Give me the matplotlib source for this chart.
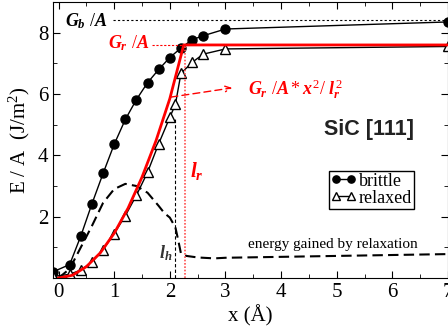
import numpy as np
import matplotlib
matplotlib.use("Agg")
import matplotlib.pyplot as plt
from matplotlib.ticker import MultipleLocator

plt.rcParams["font.family"] = ["Liberation Serif", "DejaVu Serif"]
plt.rcParams["mathtext.fontset"] = "custom"
plt.rcParams["mathtext.rm"] = "Liberation Serif"
plt.rcParams["mathtext.it"] = "Liberation Serif:italic:bold"
plt.rcParams["mathtext.bf"] = "Liberation Serif:bold"

# brittle (no relaxation)
x_brittle = [-0.1, 0.2, 0.4, 0.6, 0.8, 1.0, 1.2, 1.4, 1.6, 1.8, 2.0, 2.2, 2.4, 2.6, 3.0, 7.0]
e_brittle = [0.2, 0.44, 1.37, 2.42, 3.41, 4.36, 5.17, 5.82, 6.37, 6.8, 7.19, 7.5, 7.77, 7.9, 8.12, 8.35]

# relaxed
x_relaxed = [-0.1, 0.2, 0.4, 0.6, 0.8, 1.0, 1.2, 1.4, 1.6, 1.8, 2.0, 2.1, 2.2, 2.4, 2.6, 3.0, 7.0]
e_relaxed = [0.05, 0.12, 0.26, 0.52, 0.92, 1.45, 2.03, 2.7, 3.45, 4.38, 5.24, 5.66, 6.67, 7.03, 7.3, 7.47, 7.55]

# energy gained by relaxation
x_gain = [0.0, 0.2, 0.4, 0.6, 0.8, 1.0, 1.2, 1.4, 1.6, 1.8, 1.9, 2.0, 2.1, 2.15, 2.2, 2.3, 2.5, 2.8, 3.0, 7.0]
e_gain = [0.0, 0.3, 1.0, 1.7, 2.45, 2.9, 3.07, 3.0, 2.78, 2.35, 2.12, 1.97, 1.65, 1.24, 0.8, 0.72, 0.67, 0.64, 0.66, 0.78]

# model curve G_r/A * x^2/l_r^2
x_model = [0.0, 0.25, 0.5, 0.75, 1.0, 1.25, 1.5, 1.75, 2.0, 2.25, 7.0]
e_model = [0.0, 0.09, 0.37, 0.82, 1.46, 2.28, 3.29, 4.47, 5.85, 7.6, 7.6]

G_b = 8.4
G_r = 7.6
l_r = 2.28
l_h = 2.1

fig = plt.figure(figsize=(4.48, 3.36), dpi=100)
ax = fig.add_axes([0.1183, 0.1726, 0.8817, 0.8214])

ax.plot(x_gain, e_gain, color="black", ls=(0, (5, 2.5)), lw=1.5)
ax.plot(x_brittle, e_brittle, color="black", lw=1, marker="o", ms=6.5, label="brittle")
ax.plot(x_relaxed, e_relaxed, color="black", lw=1, marker="^", ms=6.5,
        mfc="white", mec="black", mew=1, label="relaxed")
ax.plot(x_model, e_model, color="red", lw=2)

# guide lines
ax.plot([0.98, 7.0], [G_b, G_b], color="black", ls=(0, (2, 2)), lw=0.8)
ax.plot([1.68, l_r], [G_r, G_r], color="red", ls=(0, (2, 1.5)), lw=0.8)
ax.plot([l_r, l_r], [0, G_r], color="#ff5050", ls=(0, (1, 1)), lw=1.2)
ax.plot([l_h, l_h], [0, 5.2], color="black", ls=(0, (3, 2)), lw=0.8)

ax.annotate("", xy=(3.12, 6.2), xytext=(2.02, 5.9),
            arrowprops=dict(arrowstyle="->", color="red", ls=(0, (5, 3)), lw=1,
                            shrinkA=0, shrinkB=0))

ax.text(0.12, 8.2, r"$G_b\ /A$", fontsize=13, color="black")
ax.text(0.88, 7.48, r"$G_r\ /A$", fontsize=13, color="red")
ax.text(3.41, 6.0, r"$G_r\ /A*x^2/\ l_r^2$", fontsize=13, color="red")
ax.text(2.37, 3.28, r"$l_r$", fontsize=15, color="red")
ax.text(1.8, 0.65, r"$l_h$", fontsize=13, color="#333333")
ax.text(4.78, 4.65, "SiC [111]", fontsize=15.5, fontweight="bold",
        family="Liberation Sans", color="#222222")
ax.text(3.41, 0.97, "energy gained by relaxation", fontsize=11)

ax.set_xlim(-0.1, 7)
ax.set_ylim(0, 9)
ax.set_xticks(range(0, 8))
ax.set_yticks([2, 4, 6, 8])
ax.xaxis.set_minor_locator(MultipleLocator(0.5))
ax.yaxis.set_minor_locator(MultipleLocator(1))
ax.tick_params(which="both", direction="in", top=True, right=True, labelsize=15)
ax.tick_params(which="major", length=5)
ax.tick_params(which="minor", length=3)
ax.set_xlabel("x (Å)", fontsize=15, labelpad=2)
ax.set_ylabel("E / A  (J/m$^2$)", fontsize=15, labelpad=4)

leg = ax.legend(loc="upper left", bbox_to_anchor=(0.699, 0.388), borderaxespad=0,
                fontsize=13, numpoints=2, markerscale=0.8, handlelength=1.4,
                handletextpad=0.15, labelspacing=0.0, borderpad=0.1,
                fancybox=False, framealpha=1)
leg.get_frame().set_edgecolor("black")
leg.get_frame().set_linewidth(1)

fig.savefig("out.png", dpi=100)
